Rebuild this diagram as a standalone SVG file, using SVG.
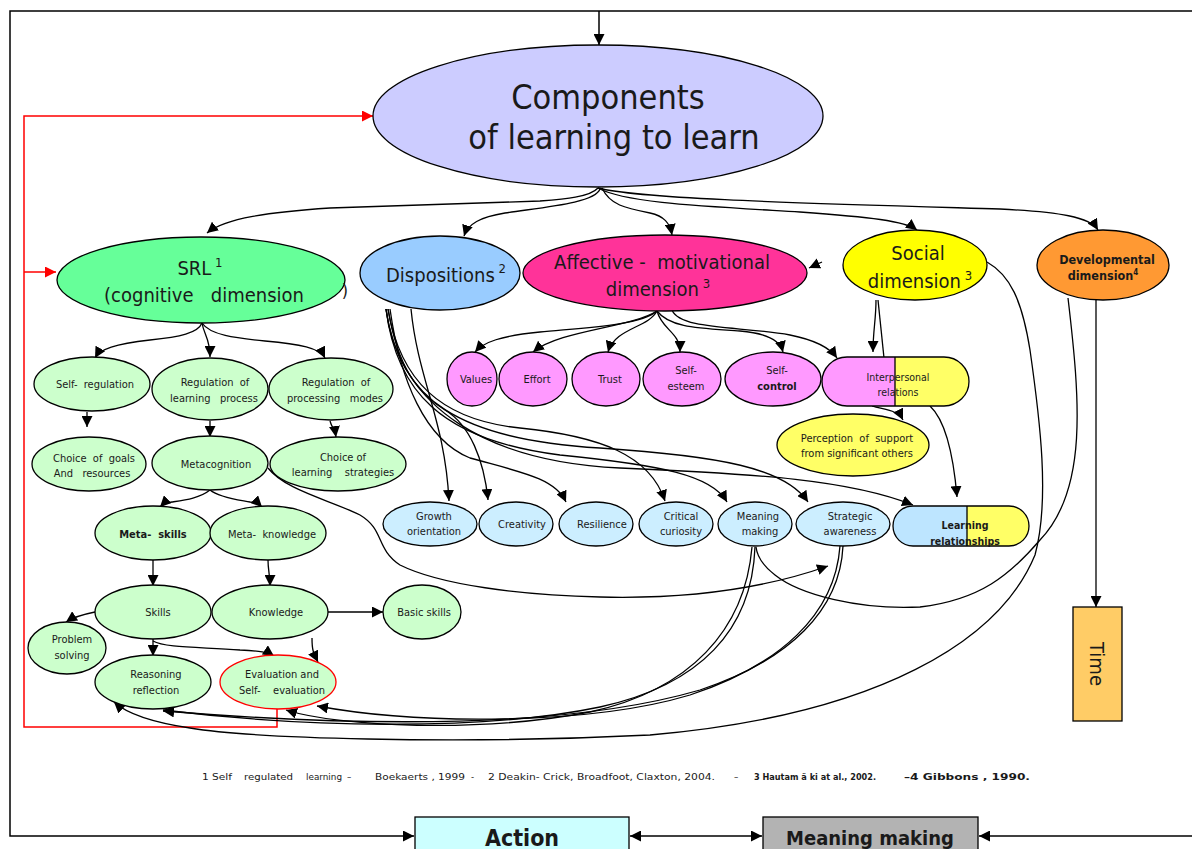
<svg xmlns="http://www.w3.org/2000/svg" width="1192" height="849" viewBox="0 0 1192 849">
<defs>
<marker id="a" viewBox="0 0 10 10" refX="10" refY="5" markerWidth="11" markerHeight="11" markerUnits="userSpaceOnUse" orient="auto"><path d="M0,0 L10,5 L0,10 Z" fill="#000"/></marker>
<marker id="ab" viewBox="0 0 10 10" refX="10" refY="5" markerWidth="11" markerHeight="11" markerUnits="userSpaceOnUse" orient="auto-start-reverse"><path d="M0,0 L10,5 L0,10 Z" fill="#000"/></marker>
<marker id="r" viewBox="0 0 10 10" refX="10" refY="5" markerWidth="11" markerHeight="11" markerUnits="userSpaceOnUse" orient="auto"><path d="M0,0 L10,5 L0,10 Z" fill="#f00"/></marker>
</defs>
<style>
text{font-family:'DejaVu Sans Condensed','DejaVu Sans',sans-serif;text-anchor:middle;fill:#1a1a1a}
.s{font-size:11px}
.b{font-weight:bold}
.f{font-size:9.5px;text-anchor:start}
.n ellipse,.n path,.n rect{stroke:#000;stroke-width:1.3}
.g ellipse{fill:#ccffcc}
.p ellipse{fill:#ff99ff}
.d ellipse{fill:#cceeff}
#connectors path{fill:none;stroke:#000;stroke-width:1.3}
.ar{marker-end:url(#a)}
.red{fill:none;stroke:#f00;stroke-width:1.5}
</style>
<rect width="1192" height="849" fill="#fff"/>
<!-- frame -->
<g id="frame" fill="none" stroke="#000" stroke-width="1.5">
<path d="M1192,11 L10,11 L10,836 L414,836" marker-end="url(#a)"/>
<path d="M630,836 L762,836" marker-start="url(#ab)" marker-end="url(#ab)"/>
<path d="M1192,836 L979,836" marker-end="url(#a)"/>
<path d="M599,11 L599,45" marker-end="url(#a)"/>
</g>
<!-- red feedback -->
<g id="feedback">
<path class="red" d="M277,709 L277,727 L24,727 L24,116 L373,116" marker-end="url(#r)"/>
<path class="red" d="M24,272 L56,272" marker-end="url(#r)"/>
</g>
<g id="connectors">
<path class="ar" d="M598,188 C590,197 565,199 540,201 L330,208 C270,212 225,218 207,233"/>
<path class="ar" d="M600,189 C595,203 545,207 505,213 C480,217 468,224 464,236"/>
<path class="ar" d="M602,188 C610,205 625,208 650,213 C664,216 670,223 672,235"/>
<path class="ar" d="M598,188 C625,203 700,206 800,212 C870,217 905,221 917,230"/>
<path class="ar" d="M598,188 C640,199 800,203 1000,209 C1060,212 1090,217 1098,230"/>
<path class="ar" d="M822,262 L809,268"/>
<path class="ar" d="M657,311 C640,326 580,328 540,332 C500,336 484,342 475,352"/>
<path class="ar" d="M657,311 C630,328 560,330 533,352"/>
<path class="ar" d="M657,311 C648,328 615,328 608,352"/>
<path class="ar" d="M657,311 C662,330 680,332 680,352"/>
<path class="ar" d="M657,311 C670,328 700,328 740,331 C765,333 780,340 783,352"/>
<path class="ar" d="M672,310 C680,330 740,326 790,335 C815,340 830,348 837,358"/>
<path class="ar" d="M876,300 C876,320 873,330 873,352"/>
<path d="M878,300 C880,320 882,340 884,358"/>
<path class="ar" d="M987,262 C1010,275 1022,300 1030,350 C1040,420 1050,500 1035,555 C1000,640 880,715 650,735 C450,745 250,738 190,728 C150,722 125,712 114,702"/>
<path class="ar" d="M1096,300 L1096,607"/>
<path d="M1068,298 C1080,400 1088,490 1040,540 C1010,575 980,600 920,607 C860,610 800,595 775,575 C762,565 757,555 756,547"/>
<path class="ar" d="M872,406 C885,410 898,410 903,420"/>
<path class="ar" d="M930,406 C945,420 953,450 957,497"/>
<path class="ar" d="M411,309 C418,380 445,420 449,501"/>
<path class="ar" d="M388,309 C398,370 420,395 445,410 C470,425 484,460 488,500"/>
<path class="ar" d="M390,309 C400,380 425,440 470,458 C520,472 555,478 566,502"/>
<path class="ar" d="M388,309 C400,380 440,420 520,428 C600,436 650,455 665,501"/>
<path class="ar" d="M386,309 C396,390 440,440 560,455 C660,465 712,475 727,502"/>
<path class="ar" d="M386,309 C398,400 460,440 600,448 C720,456 785,468 808,502"/>
<path class="ar" d="M386,309 C400,410 490,462 620,468 C760,474 850,480 913,505"/>
<path class="ar" d="M202,323 C198,333 180,337 150,340 C115,344 100,349 95,358"/>
<path class="ar" d="M202,323 C204,335 210,338 210,357"/>
<path class="ar" d="M202,323 C210,335 235,338 265,341 C300,344 320,348 325,358"/>
<path class="ar" d="M87,412 L87,427"/>
<path class="ar" d="M210,421 L210,437"/>
<path class="ar" d="M330,421 C332,428 335,430 336,437"/>
<path class="ar" d="M210,490 C200,498 185,500 172,502 C165,503 162,505 160,507"/>
<path class="ar" d="M210,490 C220,498 240,500 250,502 C257,503 260,505 262,507"/>
<path class="ar" d="M153,560 L153,586"/>
<path class="ar" d="M268,560 C268,570 270,575 270,586"/>
<path class="ar" d="M328,612 L383,612"/>
<path class="ar" d="M95,612 C85,614 75,616 66,622"/>
<path class="ar" d="M153,639 L153,656"/>
<path class="ar" d="M153,641 C165,648 200,647 240,650 C260,651 268,652 274,656"/>
<path class="ar" d="M312,638 C312,650 313,652 318,662"/>
<path class="ar" d="M268,468 C285,490 330,500 360,515 C385,530 375,548 400,565 C440,585 520,595 600,597 C680,599 760,590 828,566"/>
<path class="ar" d="M755,547 C752,630 700,685 600,707 C480,732 300,727 163,710"/>
<path class="ar" d="M752,547 C745,630 690,690 590,712 C480,733 340,727 286,710"/>
<path class="ar" d="M843,546 C840,610 790,660 700,690 C580,725 400,730 163,711"/>
<path class="ar" d="M840,546 C835,615 780,665 690,695 C590,725 420,725 317,706"/>
</g>
<!-- main node -->
<g id="components" class="n">
<ellipse cx="598" cy="116" rx="225" ry="71" fill="#ccccff"/>
<text x="608" y="109" style="font-size:34px">Components</text>
<text x="614" y="149" style="font-size:34px">of learning to learn</text>
</g>
<g id="srl" class="n">
<ellipse cx="201" cy="280" rx="144" ry="43" fill="#66ff99"/>
<text x="200" y="275" style="font-size:20px">SRL<tspan dy="-8" style="font-size:13px"> 1</tspan></text>
<text x="204" y="302" style="font-size:20px" xml:space="preserve">(cognitive   dimension</text>
<text x="345" y="297" style="font-size:18px">)</text>
</g>
<g id="dispositions" class="n">
<ellipse cx="440" cy="273" rx="80" ry="37" fill="#99ccff"/>
<text x="446" y="282" style="font-size:20px">Dispositions<tspan dy="-9" style="font-size:13px"> 2</tspan></text>
</g>
<g id="affective" class="n">
<ellipse cx="665" cy="273" rx="142" ry="38" fill="#ff3399"/>
<text x="662" y="269" style="font-size:20px" xml:space="preserve">Affective -  motivational</text>
<text x="658" y="296" style="font-size:20px">dimension<tspan dy="-8" style="font-size:13px"> 3</tspan></text>
</g>
<g id="social" class="n">
<ellipse cx="915" cy="265" rx="72" ry="35" fill="#ffff00"/>
<text x="918" y="260" style="font-size:20px">Social</text>
<text x="920" y="288" style="font-size:20px">dimension<tspan dy="-8" style="font-size:13px"> 3</tspan></text>
</g>
<g id="developmental" class="n">
<ellipse cx="1103" cy="265" rx="66" ry="35" fill="#ff9933"/>
<text x="1107" y="264" class="b" style="font-size:12.5px">Developmental</text>
<text x="1103" y="280" class="b" style="font-size:12.5px">dimension<tspan dy="-5" style="font-size:8px">4</tspan></text>
</g>
<!-- SRL children -->
<g id="self-regulation" class="n g"><ellipse cx="92" cy="384" rx="58" ry="27"/><text class="s" x="95" y="388" xml:space="preserve">Self-  regulation</text></g>
<g id="regulation-learning" class="n g"><ellipse cx="210" cy="389" rx="58" ry="31"/><text class="s" x="215" y="386" xml:space="preserve">Regulation  of</text><text class="s" x="214" y="402" xml:space="preserve">learning   process</text></g>
<g id="regulation-processing" class="n g"><ellipse cx="331" cy="389" rx="62" ry="31"/><text class="s" x="336" y="386" xml:space="preserve">Regulation  of</text><text class="s" x="335" y="402" xml:space="preserve">processing   modes</text></g>
<g id="choice-goals" class="n g"><ellipse cx="89" cy="464" rx="57" ry="27"/><text class="s" x="94" y="462" xml:space="preserve">Choice  of  goals</text><text class="s" x="92" y="477" xml:space="preserve">And   resources</text></g>
<g id="metacognition" class="n g"><ellipse cx="210" cy="463" rx="58" ry="27"/><text class="s" x="216" y="468">Metacognition</text></g>
<g id="choice-strategies" class="n g"><ellipse cx="338" cy="464" rx="68" ry="27"/><text class="s" x="343" y="461">Choice of</text><text class="s" x="343" y="476" xml:space="preserve">learning    strategies</text></g>
<g id="meta-skills" class="n g"><ellipse cx="153" cy="533" rx="58" ry="27"/><text class="s b" x="153" y="538" xml:space="preserve">Meta-  skills</text></g>
<g id="meta-knowledge" class="n g"><ellipse cx="268" cy="533" rx="58" ry="27"/><text class="s" x="272" y="538" xml:space="preserve">Meta-  knowledge</text></g>
<g id="skills" class="n g"><ellipse cx="153" cy="612" rx="58" ry="27"/><text class="s" x="158" y="616">Skills</text></g>
<g id="knowledge" class="n g"><ellipse cx="270" cy="612" rx="58" ry="27"/><text class="s" x="276" y="616">Knowledge</text></g>
<g id="basic-skills" class="n g"><ellipse cx="422" cy="612" rx="39" ry="27"/><text class="s" x="424" y="616">Basic skills</text></g>
<g id="problem-solving" class="n g"><ellipse cx="67" cy="648" rx="39" ry="26"/><text class="s" x="72" y="643">Problem</text><text class="s" x="72" y="659">solving</text></g>
<g id="reasoning" class="n g"><ellipse cx="153" cy="682" rx="58" ry="27"/><text class="s" x="156" y="678">Reasoning</text><text class="s" x="156" y="694">reflection</text></g>
<g id="evaluation" class="n g"><ellipse cx="278" cy="682" rx="58" ry="27" style="stroke:#f00"/><text class="s" x="282" y="678">Evaluation and</text><text class="s" x="282" y="694" xml:space="preserve">Self-    evaluation</text></g>
<!-- affective children -->
<g id="values" class="n p"><ellipse cx="472" cy="379" rx="25" ry="27"/><text class="s" x="476" y="383">Values</text></g>
<g id="effort" class="n p"><ellipse cx="533" cy="379" rx="34" ry="27"/><text class="s" x="537" y="383">Effort</text></g>
<g id="trust" class="n p"><ellipse cx="606" cy="379" rx="34" ry="27"/><text class="s" x="610" y="383">Trust</text></g>
<g id="self-esteem" class="n p"><ellipse cx="682" cy="379" rx="39" ry="27"/><text class="s" x="686" y="374">Self-</text><text class="s" x="686" y="390">esteem</text></g>
<g id="self-control" class="n p"><ellipse cx="773" cy="379" rx="48" ry="27"/><text class="s" x="777" y="374">Self-</text><text class="s b" x="777" y="390">control</text></g>
<g id="interpersonal" class="n">
<path d="M895,357 L847,357 A25,24.5 0 0 0 847,406 L895,406 Z" fill="#ff99ff" style="stroke:none"/>
<path d="M895,357 L944,357 A25,24.5 0 0 1 944,406 L895,406 Z" fill="#ffff66" style="stroke:none"/>
<path d="M847,357 L944,357 A25,24.5 0 0 1 944,406 L847,406 A25,24.5 0 0 1 847,357 Z M895,357 L895,406" fill="none"/>
<text class="s" x="898" y="381" style="font-size:10.5px">Interpersonal</text><text class="s" x="898" y="396" style="font-size:10.5px">relations</text>
</g>
<g id="perception" class="n"><ellipse cx="853" cy="445" rx="76" ry="31" fill="#ffff66"/><text class="s" x="857" y="442" xml:space="preserve">Perception  of  support</text><text class="s" x="857" y="457">from significant others</text></g>
<!-- disposition children -->
<g id="growth" class="n d"><ellipse cx="430" cy="524" rx="47" ry="22"/><text class="s" x="434" y="520">Growth</text><text class="s" x="434" y="535">orientation</text></g>
<g id="creativity" class="n d"><ellipse cx="516" cy="524" rx="37" ry="22"/><text class="s" x="522" y="528">Creativity</text></g>
<g id="resilience" class="n d"><ellipse cx="596" cy="524" rx="37" ry="22"/><text class="s" x="602" y="528">Resilience</text></g>
<g id="critical" class="n d"><ellipse cx="676" cy="524" rx="37" ry="22"/><text class="s" x="681" y="520">Critical</text><text class="s" x="681" y="535">curiosity</text></g>
<g id="meaning" class="n d"><ellipse cx="755" cy="524" rx="37" ry="22"/><text class="s" x="758" y="520">Meaning</text><text class="s" x="760" y="535">making</text></g>
<g id="strategic" class="n d"><ellipse cx="843" cy="524" rx="47" ry="22"/><text class="s" x="850" y="520">Strategic</text><text class="s" x="850" y="535">awareness</text></g>
<g id="learning-relationships" class="n">
<path d="M967,506 L913,506 A20,20 0 0 0 913,546 L967,546 Z" fill="#bde5ff" style="stroke:none"/>
<path d="M967,506 L1009,506 A20,20 0 0 1 1009,546 L967,546 Z" fill="#ffff66" style="stroke:none"/>
<path d="M913,506 L1009,506 A20,20 0 0 1 1009,546 L913,546 A20,20 0 0 1 913,506 Z M967,506 L967,546" fill="none"/>
<text class="s b" x="965" y="529" style="font-size:10.5px">Learning</text><text class="s b" x="965" y="545" style="font-size:10.5px">relationships</text>
</g>
<g id="time" class="n"><rect x="1073" y="607" width="49" height="114" fill="#ffcc66"/><text x="1097" y="671" transform="rotate(90 1097 664)" style="font-size:20px">Time</text></g>
<!-- footnote -->
<g id="footnote">
<text class="f" x="202" y="780" textLength="30" lengthAdjust="spacingAndGlyphs">1 Self</text>
<text class="f" x="244" y="780" textLength="49" lengthAdjust="spacingAndGlyphs">regulated</text>
<text class="f" x="306" y="780" textLength="36" lengthAdjust="spacingAndGlyphs">learning</text>
<text class="f" x="347" y="780">–</text>
<text class="f" x="375" y="780" textLength="90" lengthAdjust="spacingAndGlyphs">Boekaerts , 1999</text>
<text class="f" x="471" y="780">-</text>
<text class="f" x="488" y="780" textLength="227" lengthAdjust="spacingAndGlyphs">2 Deakin- Crick, Broadfoot, Claxton, 2004.</text>
<text class="f" x="734" y="780">–</text>
<text class="f b" x="754" y="780" textLength="122" lengthAdjust="spacingAndGlyphs">3 Hautam ä ki at al., 2002.</text>
<text class="f b" x="904" y="780" textLength="126" lengthAdjust="spacingAndGlyphs">–4 Gibbons , 1990.</text>
</g>
<g id="action" class="n"><rect x="415" y="817" width="214" height="45" fill="#ccffff"/><text x="522" y="846" class="b" style="font-size:23px">Action</text></g>
<g id="meaning-making-box" class="n"><rect x="763" y="817" width="215" height="45" fill="#b3b3b3"/><text x="870" y="845" class="b" style="font-size:20px">Meaning making</text></g>
</svg>
